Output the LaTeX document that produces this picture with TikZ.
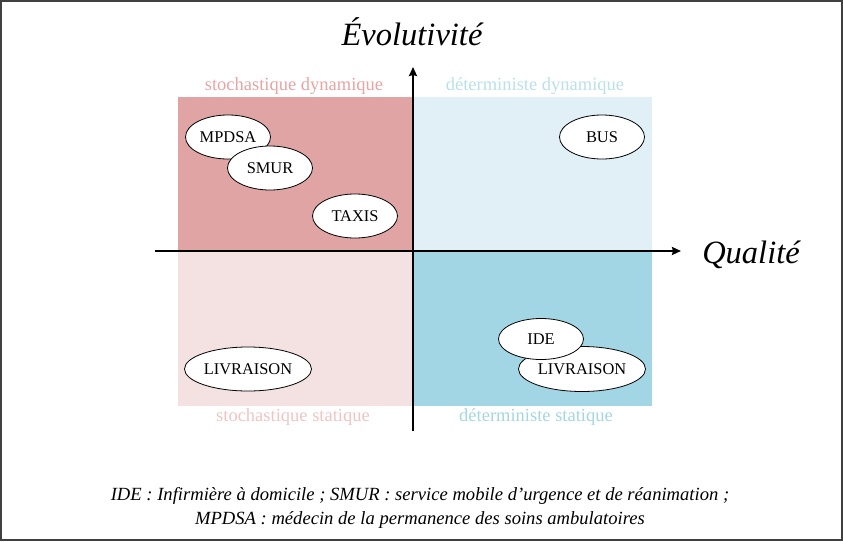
\documentclass[tikz,border=0pt]{standalone}
\usepackage{fontspec}
\setmainfont{Liberation Serif}
\usetikzlibrary{shapes.geometric, arrows.meta}

\definecolor{sdyn}{HTML}{E0A4A4}
\definecolor{ddyn}{HTML}{E0F0F6}
\definecolor{ssta}{HTML}{F4E1E1}
\definecolor{dsta}{HTML}{A2D6E4}
\definecolor{sdyntxt}{HTML}{E8A3A3}
\definecolor{ddyntxt}{HTML}{B9E0EB}
\definecolor{sstatxt}{HTML}{F0C4C4}
\definecolor{dstatxt}{HTML}{A4D6E4}

\begin{document}
\begin{tikzpicture}[x=1pt, y=-1pt,
    bulle/.style={ellipse, draw, fill=white, line width=0.8pt, inner sep=0pt,
      minimum width=85pt, minimum height=44pt, font=\fontsize{16.4}{16.4}\selectfont},
    quadlab/.style={inner sep=0pt, font=\fontsize{18.5}{18.5}\selectfont},
    axelab/.style={inner sep=0pt, font=\fontsize{32.5}{32.5}\selectfont\itshape},
    axe/.style={line width=2pt, -{Stealth[length=9pt, width=8pt, inset=1pt]}}]
  \useasboundingbox (0,0) rectangle (843,541);
  \draw[black!75, line width=1.2pt] (1,1) rectangle (842,540);

  % les quatre quadrants
  \fill[sdyn] (178,97) rectangle (413,251);
  \fill[ddyn] (413,97) rectangle (652,251);
  \fill[ssta] (178,251) rectangle (413,406);
  \fill[dsta] (413,251) rectangle (652,406);

  \node[quadlab, text=sdyntxt] (sd) at (294,86) {stochastique dynamique};
  \node[quadlab, text=ddyntxt] (dd) at (535,86) {déterministe dynamique};
  \node[quadlab, text=sstatxt] (ss) at (293,417) {stochastique statique};
  \node[quadlab, text=dstatxt] (ds) at (536,417) {déterministe statique};

  % axes
  \coordinate (ouest) at (155,251);
  \coordinate (est) at (681,251);
  \coordinate (sud) at (413,431);
  \coordinate (nord) at (413,67);
  \draw[axe] (ouest) -- (est);
  \draw[axe] (sud) -- (nord);
  \node[axelab] (evol) at (412,32) {Évolutivité};
  \node[axelab] (qual) at (751,255) {Qualité};

  % services
  \node[bulle] (mpdsa) at (228,137) {MPDSA};
  \node[bulle] (smur) at (270,168) {SMUR};
  \node[bulle] (taxis) at (355,216) {TAXIS};
  \node[bulle] (bus) at (602,137) {BUS};
  \node[bulle, minimum width=127pt] (livs) at (248,369) {LIVRAISON};
  \node[bulle, minimum width=127pt, minimum height=45pt] (livd) at (582,369) {LIVRAISON};
  \node[bulle, minimum height=41pt] (ide) at (541,339) {IDE};

  \node[align=center, font=\fontsize{18.6}{24}\selectfont\itshape] (legende) at (420,508)
    {IDE : Infirmière à domicile ; SMUR : service mobile d’urgence et de réanimation ;\\
     MPDSA : médecin de la permanence des soins ambulatoires};
\end{tikzpicture}
\end{document}
